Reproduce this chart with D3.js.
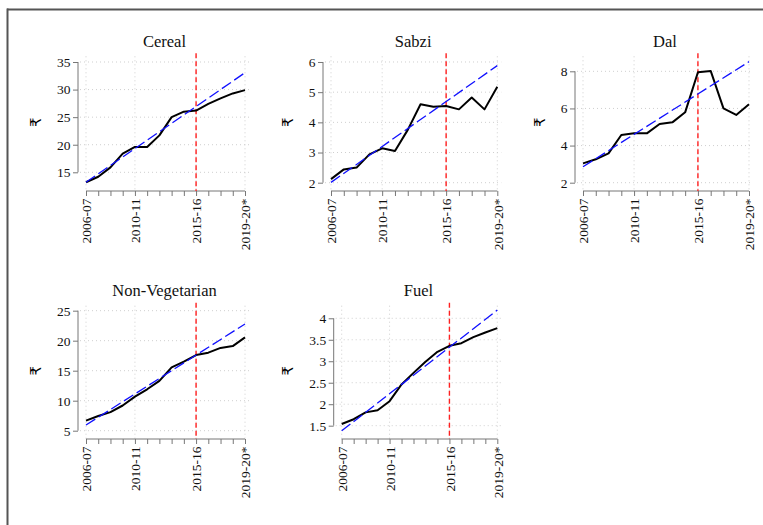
<!DOCTYPE html>
<html><head><meta charset="utf-8">
<script src="https://cdn.jsdelivr.net/npm/d3@7"></script>
<style>
body{margin:0;background:#fff}
svg{display:block;font-family:"Liberation Serif","Times New Roman",Times,serif}
</style>
</head><body>
<svg id="chart" width="763" height="525"></svg>
<script>
// ---------- data ----------
const years = ["2006-07","2007-08","2008-09","2009-10","2010-11","2011-12","2012-13",
               "2013-14","2014-15","2015-16","2016-17","2017-18","2018-19","2019-20*"];
const labeledYears = ["2006-07","2010-11","2015-16","2019-20*"];
const breakYear = "2015-16";
const yUnit = "₹";

const panelTitles = ["Cereal","Sabzi","Dal","Non-Vegetarian","Fuel"];

const cereal  = [13.2,14.2,15.9,18.4,19.6,19.6,21.7,25.0,26.0,26.2,27.4,28.4,29.3,29.9];
const sabzi   = [2.12,2.44,2.50,2.94,3.14,3.05,3.75,4.60,4.52,4.54,4.43,4.82,4.43,5.18];
const dal     = [3.04,3.26,3.58,4.57,4.66,4.66,5.16,5.25,5.79,7.95,8.02,6.00,5.65,6.22];
const nonVeg  = [6.67,7.44,8.10,9.20,10.67,11.90,13.30,15.55,16.50,17.60,18.00,18.80,19.10,20.55];
const fuel    = [1.54,1.65,1.81,1.86,2.07,2.46,2.73,2.99,3.22,3.36,3.42,3.56,3.67,3.77];

// linear trend: value at first year, value at last year
const cerealTrend = [13.19,33.06];
const sabziTrend  = [2.01,5.88];
const dalTrend    = [2.86,8.52];
const nonVegTrend = [5.94,22.78];
const fuelTrend   = [1.38,4.19];

const cerealTicks = [15,20,25,30,35];
const sabziTicks  = [2,3,4,5,6];
const dalTicks    = [2,4,6,8];
const nonVegTicks = [5,10,15,20,25];
const fuelTicks   = [1.5,2,2.5,3,3.5,4];

const seriesList = [cereal, sabzi, dal, nonVeg, fuel];
const trendList  = [cerealTrend, sabziTrend, dalTrend, nonVegTrend, fuelTrend];
const tickList   = [cerealTicks, sabziTicks, dalTicks, nonVegTicks, fuelTicks];

// ---------- layout (pixel frames of each panel) ----------
const layout = [
  {x0:86,    x1:245,   top:53.3,  bottom:191, lo:11.61, hi:36.58},
  {x0:331,   x1:497.3, top:53.3,  bottom:191, lo:1.725, hi:6.288},
  {x0:583,   x1:749,   top:53.3,  bottom:191, lo:1.553, hi:8.97},
  {x0:86,    x1:245,   top:302.7, bottom:439, lo:3.617, hi:26.33},
  {x0:341.7, x1:497.3, top:302.7, bottom:439, lo:1.19,  hi:4.363}
];

const SERIF = '"Liberation Serif","Times New Roman",Times,serif';
const svg = d3.select("#chart");
const axisCol = "#777", textCol = "#111", gridCol = "#cfcfcf";

// outer frame
svg.append("line").attr("x1",7).attr("x2",763).attr("y1",9.5).attr("y2",9.5)
   .attr("stroke","#555").attr("stroke-width",2);
svg.append("line").attr("x1",7.5).attr("x2",7.5).attr("y1",8.5).attr("y2",525)
   .attr("stroke","#555").attr("stroke-width",2);

const fmt = d => String(d);

panelTitles.forEach((title, i) => {
  const L = layout[i];
  const data = seriesList[i];
  const trend = trendList[i];
  const ticks = tickList[i];
  const g = svg.append("g");

  const x = d3.scalePoint().domain(years).range([L.x0, L.x1]);
  const y = d3.scaleLinear().domain([L.lo, L.hi]).range([L.bottom, L.top]);
  const axisX = L.x0 - 8;
  const plotL = L.x0 - 6, plotR = L.x1 + 4;

  // grid
  g.selectAll(".hg").data(ticks).join("line")
    .attr("x1", plotL).attr("x2", plotR)
    .attr("y1", d => y(d)).attr("y2", d => y(d))
    .attr("stroke", gridCol).attr("stroke-width", 1).attr("stroke-dasharray", "1,3");
  g.selectAll(".vg").data(labeledYears).join("line")
    .attr("x1", d => x(d)).attr("x2", d => x(d))
    .attr("y1", L.top + 3).attr("y2", L.bottom)
    .attr("stroke", gridCol).attr("stroke-width", 1).attr("stroke-dasharray", "1,3");

  // y axis
  const ya = g.append("g").attr("transform", `translate(${axisX},0)`)
    .call(d3.axisLeft(y).tickValues(ticks).tickSize(5).tickPadding(2.5).tickFormat(fmt));
  ya.attr("font-family", null).attr("font-size", null);
  ya.select(".domain").remove();
  ya.selectAll(".tick line").attr("stroke", axisCol);
  ya.selectAll(".tick text").attr("fill", textCol)
    .style("font-size", "13.5px").style("font-family", SERIF);
  g.append("line").attr("x1", axisX).attr("x2", axisX)
    .attr("y1", y(ticks[0])).attr("y2", y(ticks[ticks.length - 1])).attr("stroke", axisCol);

  let maxW = 0;
  ya.selectAll(".tick text").each(function(){ maxW = Math.max(maxW, this.getComputedTextLength()); });
  const labelLeft = axisX - 7.5 - maxW;
  const ymid = (L.top + L.bottom) / 2;
  g.append("text").text(yUnit)
    .attr("transform", `translate(${labelLeft - 16},${ymid}) rotate(-90)`)
    .attr("text-anchor", "middle").attr("fill", "#000")
    .style("font-size", "15px").style("font-family", '"DejaVu Sans","Noto Sans",sans-serif');

  // x axis
  const xa = g.append("g").attr("transform", `translate(0,${L.bottom})`)
    .call(d3.axisBottom(x).tickSize(5).tickFormat(d => labeledYears.includes(d) ? d : ""));
  xa.attr("font-family", null).attr("font-size", null);
  xa.select(".domain").remove();
  xa.selectAll(".tick line").attr("stroke", axisCol);
  xa.selectAll(".tick text")
    .attr("fill", textCol)
    .style("font-size", "13.5px").style("font-family", SERIF)
    .attr("text-anchor", "end").attr("y", 0).attr("dy", "0.35em")
    .attr("transform", "translate(0,7.5) rotate(-90)");
  g.append("line").attr("x1", L.x0).attr("x2", L.x1)
    .attr("y1", L.bottom).attr("y2", L.bottom).attr("stroke", axisCol);

  // break line
  g.append("line").attr("x1", x(breakYear)).attr("x2", x(breakYear))
    .attr("y1", L.top).attr("y2", L.bottom)
    .attr("stroke", "#ff2020").attr("stroke-width", 1.4).attr("stroke-dasharray", "5,3");

  // data line
  g.append("path").datum(data)
    .attr("d", d3.line().x((d, j) => x(years[j])).y(d => y(d)))
    .attr("fill", "none").attr("stroke", "#000").attr("stroke-width", 2)
    .attr("stroke-linejoin", "round");

  // trend line
  g.append("path").datum([[years[0], trend[0]], [years[years.length - 1], trend[1]]])
    .attr("d", d3.line().x(d => x(d[0])).y(d => y(d[1])))
    .attr("fill", "none").attr("stroke", "#1010ff").attr("stroke-width", 1.3)
    .attr("stroke-dasharray", "11,4");

  // title
  g.append("text").text(title)
    .attr("x", (plotL + plotR) / 2).attr("y", L.top - 6.3)
    .attr("text-anchor", "middle").attr("fill", textCol)
    .style("font-size", "16.5px").style("font-family", SERIF);
});
</script>
</body></html>
